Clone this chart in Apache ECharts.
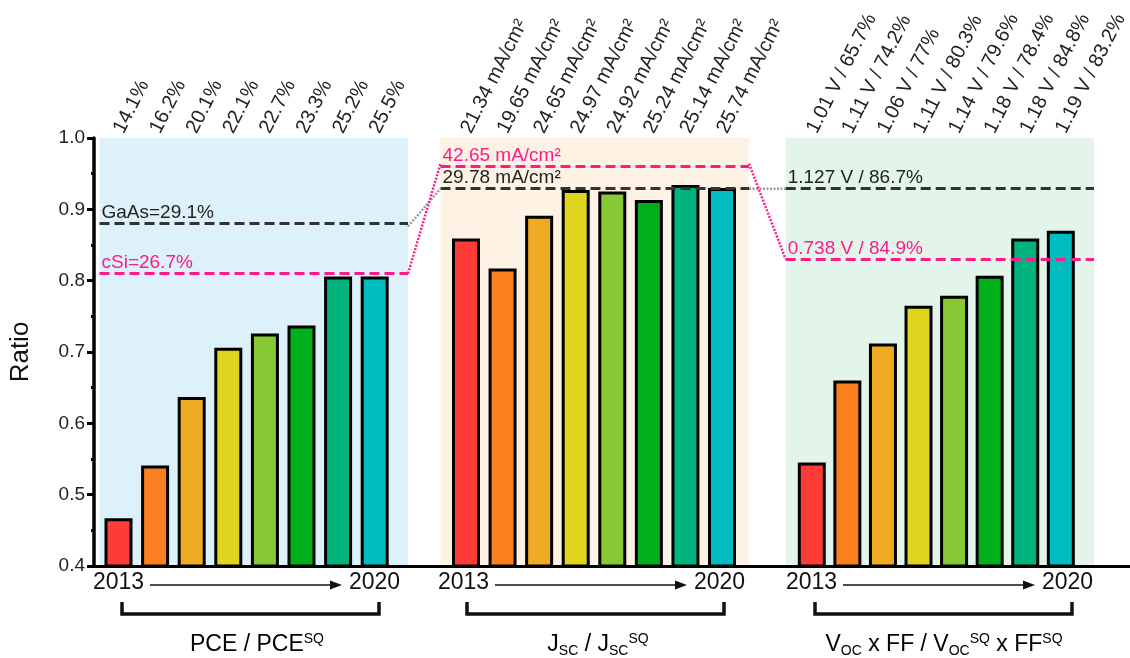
<!DOCTYPE html>
<html><head><meta charset="utf-8">
<script src="https://cdn.jsdelivr.net/npm/echarts@6/dist/echarts.min.js"></script>
<style>html,body{margin:0;padding:0;background:#fff}#c{width:1130px;height:658px}</style>
</head><body><div id="c"></div>
<script>
// ---------- DATA ----------
const pceLabels = ['14.1%','16.2%','20.1%','22.1%','22.7%','23.3%','25.2%','25.5%'];
const jscLabels = ['21.34 mA/cm\u00b2','19.65 mA/cm\u00b2','24.65 mA/cm\u00b2','24.97 mA/cm\u00b2','24.92 mA/cm\u00b2','25.24 mA/cm\u00b2','25.14 mA/cm\u00b2','25.74 mA/cm\u00b2'];
const vocLabels = ['1.01 V / 65.7%','1.11 V / 74.2%','1.06 V / 77%','1.11 V / 80.3%','1.14 V / 79.6%','1.18 V / 78.4%','1.18 V / 84.8%','1.19 V / 83.2%'];

const pceRatio = [0.467, 0.541, 0.637, 0.706, 0.726, 0.737, 0.806, 0.806];
const jscRatio = [0.859, 0.817, 0.891, 0.927, 0.925, 0.913, 0.934, 0.930];
const vocFfRatio = [0.545, 0.660, 0.712, 0.765, 0.779, 0.807, 0.859, 0.870];

const pceRefValues = [0.876, 0.810];
const pceRefNames = ['GaAs=29.1%', 'cSi=26.7%'];
const jscRefValues = [0.964, 0.929];
const jscRefNames = ['42.65 mA/cm\u00b2', '29.78 mA/cm\u00b2'];
const vocRefValues = [0.929, 0.830];
const vocRefNames = ['1.127 V / 86.7%', '0.738 V / 84.9%'];

const yTicks = { min: 0.4, max: 1.0, interval: 0.1 };
const yearStart = '2013', yearEnd = '2020';

// ---------- STYLE ----------
const FONT = '"Liberation Sans", Arial, Helvetica, sans-serif';
const DARK = '#333333', PINK = '#ff1a8c', GRAY = '#9a9a9a';
const barColors = ['#fd3c37','#fb7e1f','#eeab21','#e0d51e','#86c934','#00b01a','#00b37c','#00bcbe'];
const TOP = 138, H = 428;

const panels = [
  { labels: pceLabels, values: pceRatio, refV: pceRefValues, refN: pceRefNames, refC: [DARK, PINK],
    bg: '#ddf1fa', bgLeft: 99.5, bgW: 308.5, barLeft: 100.2, barW: 292.8 },
  { labels: jscLabels, values: jscRatio, refV: jscRefValues, refN: jscRefNames, refC: [PINK, DARK],
    bg: '#fdf2e4', bgLeft: 440.5, bgW: 308.5, barLeft: 447.7, barW: 292.6 },
  { labels: vocLabels, values: vocFfRatio, refV: vocRefValues, refN: vocRefNames, refC: [DARK, PINK],
    bg: '#e3f5eb', bgLeft: 785.7, bgW: 308.3, barLeft: 794, barW: 295 }
];
const connectors = [
  { left: 408, width: 32.5, lines: [[pceRefValues[0], jscRefValues[1], GRAY], [pceRefValues[1], jscRefValues[0], PINK]] },
  { left: 749, width: 36.7, lines: [[jscRefValues[1], vocRefValues[0], GRAY], [jscRefValues[0], vocRefValues[1], PINK]] }
];

const grid = [], xAxis = [], yAxis = [], series = [];
function hiddenY(gi) { return { type: 'value', gridIndex: gi, min: yTicks.min, max: yTicks.max, show: false }; }

// background grids (with reference lines)
panels.forEach((p, i) => {
  const gi = grid.length;
  grid.push({ left: p.bgLeft, top: TOP, width: p.bgW, height: H, show: true, backgroundColor: p.bg, borderWidth: 0 });
  xAxis.push({ type: 'value', gridIndex: gi, min: 0, max: 1, show: false });
  yAxis.push(hiddenY(gi));
  series.push({
    type: 'line', xAxisIndex: gi, yAxisIndex: gi, data: [], z: 6, silent: true,
    markLine: {
      silent: true, symbol: 'none', animation: false,
      label: { position: 'insideStartTop', distance: [2, 1], fontFamily: FONT, fontSize: 19 },
      data: p.refV.map((v, k) => ({
        yAxis: v,
        lineStyle: { color: p.refC[k], type: [10, 5], width: 3 },
        label: { formatter: p.refN[k], color: p.refC[k] === DARK ? '#222' : PINK }
      }))
    }
  });
});
// bar grids
panels.forEach((p, i) => {
  const gi = grid.length;
  grid.push({ left: p.barLeft, top: TOP, width: p.barW, height: H });
  xAxis.push({
    type: 'category', gridIndex: gi, data: p.labels, position: 'top',
    axisLine: { show: false }, axisTick: { show: false },
    axisLabel: { interval: 0, rotate: -63, margin: 6, fontFamily: FONT, fontSize: 20, color: '#222' }
  });
  yAxis.push(hiddenY(gi));
  series.push({
    type: 'bar', xAxisIndex: gi, yAxisIndex: gi, barWidth: 28, z: 3,
    itemStyle: { borderColor: '#000', borderWidth: 3 },
    data: p.values.map((v, k) => ({ value: v, itemStyle: { color: barColors[k] } }))
  });
});
// connector grids
connectors.forEach(c => {
  const gi = grid.length;
  grid.push({ left: c.left, top: TOP, width: c.width, height: H });
  xAxis.push({ type: 'value', gridIndex: gi, min: 0, max: 1, show: false });
  yAxis.push(hiddenY(gi));
  c.lines.forEach(l => series.push({
    type: 'line', xAxisIndex: gi, yAxisIndex: gi, symbol: 'none', z: 6, silent: true,
    lineStyle: { color: l[2], width: 2.5, type: [2, 1.5] },
    data: [[0, l[0]], [1, l[1]]]
  }));
});
// axis grid
const ag = grid.length;
grid.push({ left: 93, right: 0, top: TOP, height: H });
xAxis.push({ type: 'value', gridIndex: ag, min: 0, max: 1, z: 10,
  axisLine: { show: true, lineStyle: { color: '#000', width: 3 } },
  axisTick: { show: false }, axisLabel: { show: false }, splitLine: { show: false } });
yAxis.push({ type: 'value', gridIndex: ag, min: yTicks.min, max: yTicks.max, interval: yTicks.interval, z: 10,
  name: 'Ratio', nameLocation: 'middle', nameGap: 60,
  nameTextStyle: { fontFamily: FONT, fontSize: 26, color: '#111' },
  axisLine: { show: true, lineStyle: { color: '#000', width: 3.5 } },
  axisTick: { show: true, length: 7, lineStyle: { color: '#000', width: 3 } },
  minorTick: { show: true, splitNumber: 2, length: 3, lineStyle: { color: '#000', width: 3 } },
  axisLabel: { fontFamily: FONT, fontSize: 19, color: '#222', margin: 9, formatter: v => v.toFixed(1) },
  splitLine: { show: false }, minorSplitLine: { show: false } });

// bottom annotations (decoration)
const panelDx = [0, 345, 693];
const panelTitleX = [257, 598, 944];
const rich = {
  b: { fontFamily: FONT, fontSize: 23, color: '#111', lineHeight: 26 },
  sup: { fontFamily: FONT, fontSize: 14, color: '#111', lineHeight: 14, verticalAlign: 'top' },
  sub: { fontFamily: FONT, fontSize: 14, color: '#111', lineHeight: 14, verticalAlign: 'bottom' }
};
const titles = [
  '{b|PCE / PCE}{sup|SQ}',
  '{b|J}{sub|SC}{b| / J}{sub|SC}{sup|SQ}',
  '{b|V}{sub|OC}{b| x FF / V}{sub|OC}{sup|SQ}{b| x FF}{sup|SQ}'
];
const graphic = [];
panelDx.forEach((dx, i) => {
  graphic.push({ type: 'text', left: 93 + dx, top: 571, style: { text: yearStart, fontFamily: FONT, fontSize: 23, fill: '#111' } });
  graphic.push({ type: 'text', left: 349 + dx, top: 571, style: { text: yearEnd, fontFamily: FONT, fontSize: 23, fill: '#111' } });
  graphic.push({ type: 'line', shape: { x1: 150 + dx, y1: 585, x2: 334 + dx, y2: 585 }, style: { stroke: '#111', lineWidth: 1.6 } });
  graphic.push({ type: 'polygon', shape: { points: [[330 + dx, 580.5], [342 + dx, 585], [330 + dx, 589.5]] }, style: { fill: '#111' } });
  graphic.push({ type: 'polyline', shape: { points: [[122 + dx, 602], [122 + dx, 614], [379 + dx, 614], [379 + dx, 602]] }, style: { stroke: '#111', lineWidth: 3.5, fill: null } });
  graphic.push({ type: 'text', x: panelTitleX[i], y: 645, style: { text: titles[i], rich: rich, align: 'center', verticalAlign: 'middle' } });
});

const chart = echarts.init(document.getElementById('c'), null, { renderer: 'canvas' });
chart.setOption({ animation: false, backgroundColor: '#fff', textStyle: { fontFamily: FONT }, grid, xAxis, yAxis, series, graphic });
</script></body></html>
